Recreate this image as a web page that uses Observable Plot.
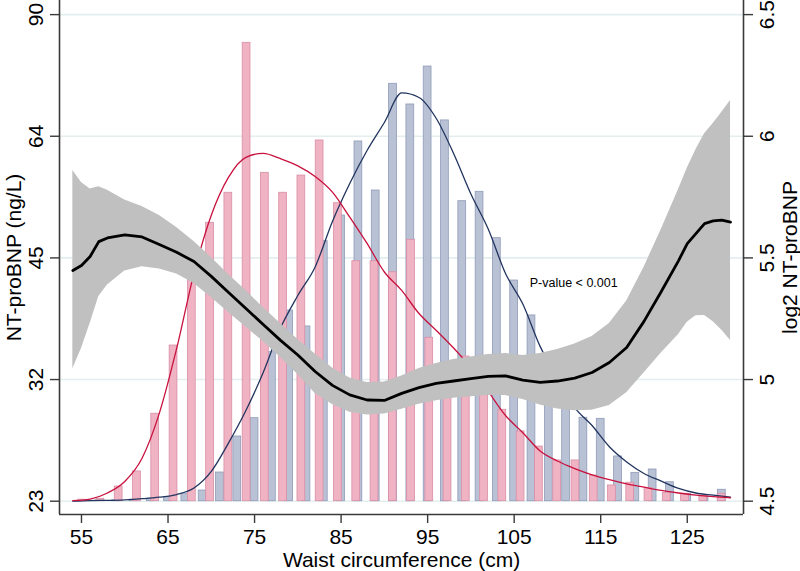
<!DOCTYPE html>
<html>
<head>
<meta charset="utf-8">
<script src="https://cdn.jsdelivr.net/npm/d3@7"></script>
<script src="https://cdn.jsdelivr.net/npm/@observablehq/plot@0.6"></script>
<style>
  html, body { margin: 0; padding: 0; background: #ffffff; }
  #chart svg { display: block; }
</style>
</head>
<body>
<div id="chart"></div>
<script>
// ---------- Axis / tick data ----------
const xTicks = [55, 65, 75, 85, 95, 105, 115, 125];
const yTicks = [4.5, 5, 5.5, 6, 6.5];                 // log2 NT-proBNP (right axis)
const leftTickLabels = ["23", "32", "45", "64", "90"]; // NT-proBNP (ng/L) = 2^value
const rightTickLabels = ["4.5", "5", "5.5", "6", "6.5"];
const xTitle = "Waist circumference (cm)";
const leftTitle = "NT-proBNP (ng/L)";
const rightTitle = "log2 NT-proBNP";
const pText = "P-value < 0.001";
const pX = 106.8, pY = 5.382;

// ---------- Spline estimate with 95% CI (log2 NT-proBNP) ----------
const waistGrid = [54, 55, 56, 57, 58, 60, 62, 64, 66, 68, 70, 72, 74, 76, 78, 80, 82, 84, 86, 88, 90, 92, 94, 96, 98, 100, 102, 104, 106, 108, 110, 112, 114, 116, 118, 120, 122, 124, 125, 126, 127, 128, 129, 130];
const estimate = [5.448, 5.469, 5.506, 5.567, 5.582, 5.595, 5.586, 5.555, 5.523, 5.485, 5.424, 5.358, 5.292, 5.226, 5.161, 5.101, 5.033, 4.976, 4.937, 4.916, 4.914, 4.943, 4.967, 4.984, 4.994, 5.004, 5.013, 5.015, 4.998, 4.988, 4.994, 5.006, 5.029, 5.070, 5.132, 5.239, 5.362, 5.489, 5.559, 5.600, 5.641, 5.652, 5.655, 5.647];
const upperCI = [5.859, 5.810, 5.783, 5.792, 5.778, 5.738, 5.711, 5.674, 5.625, 5.567, 5.502, 5.432, 5.366, 5.296, 5.230, 5.165, 5.105, 5.047, 5.006, 4.988, 4.990, 5.015, 5.045, 5.066, 5.082, 5.093, 5.103, 5.107, 5.099, 5.107, 5.124, 5.146, 5.177, 5.230, 5.323, 5.461, 5.617, 5.782, 5.868, 5.945, 6.010, 6.052, 6.099, 6.147];
const lowerCI = [5.044, 5.128, 5.230, 5.341, 5.389, 5.446, 5.464, 5.454, 5.434, 5.395, 5.337, 5.276, 5.216, 5.156, 5.091, 5.021, 4.943, 4.897, 4.866, 4.854, 4.858, 4.878, 4.898, 4.913, 4.923, 4.929, 4.934, 4.934, 4.918, 4.895, 4.879, 4.872, 4.874, 4.893, 4.946, 5.027, 5.109, 5.185, 5.236, 5.262, 5.263, 5.238, 5.203, 5.161];

// ---------- Waist distribution: histograms (% per cm) ----------
const womenBins = [55.08, 57.19, 59.30, 61.41, 63.52, 65.64, 67.75, 69.86, 71.97, 74.08, 76.19, 78.30, 80.41, 82.52, 84.63, 86.75, 88.86, 90.97, 93.08, 95.19, 97.30, 99.41, 101.52, 103.63, 105.74, 107.86, 109.97, 112.08, 114.19, 116.30, 118.41, 120.52, 122.63, 124.74, 126.85, 128.97];
const womenHist = [0.014, 0.022, 0.136, 0.276, 0.811, 1.444, 2.059, 2.583, 2.861, 4.252, 3.046, 2.861, 3.021, 3.346, 2.764, 2.226, 2.226, 2.124, 2.425, 1.516, 1.289, 1.342, 1.067, 0.848, 0.647, 0.507, 0.378, 0.378, 0.238, 0.146, 0.171, 0.124, 0.078, 0.069, 0.046, 0.069];
const menBins = [57, 59, 61, 63, 65, 67, 69, 71, 73, 75, 77, 79, 81, 83, 85, 87, 89, 91, 93, 95, 97, 99, 101, 103, 105, 107, 109, 111, 113, 115, 117, 119, 121, 123, 125, 127, 129];
const menHist = [0.005, 0.009, 0.014, 0.023, 0.037, 0.069, 0.099, 0.266, 0.600, 0.770, 1.382, 1.769, 1.621, 2.412, 2.650, 3.337, 2.882, 3.872, 3.680, 4.032, 3.532, 2.783, 2.870, 2.440, 2.047, 1.723, 1.160, 0.974, 0.774, 0.764, 0.415, 0.263, 0.294, 0.176, 0.065, 0.046, 0.106];

// ---------- Kernel density curves (% per cm) ----------
const densGrid = [54, 56, 58, 60, 62, 64, 66, 68, 70, 72, 74, 76, 78, 80, 82, 84, 86, 88, 90, 92, 94, 96, 98, 100, 102, 104, 106, 108, 110, 112, 114, 116, 118, 120, 122, 124, 126, 128, 130];
const womenDensity = [0.006, 0.020, 0.076, 0.183, 0.399, 0.817, 1.417, 2.114, 2.653, 3.006, 3.190, 3.227, 3.177, 3.111, 3.012, 2.867, 2.635, 2.391, 2.126, 1.955, 1.741, 1.584, 1.421, 1.238, 1.018, 0.795, 0.635, 0.466, 0.373, 0.303, 0.245, 0.199, 0.160, 0.130, 0.100, 0.076, 0.056, 0.042, 0.032];
const menDensity = [0, 0.006, 0.008, 0.013, 0.023, 0.037, 0.062, 0.122, 0.276, 0.541, 0.841, 1.194, 1.607, 1.908, 2.173, 2.595, 2.947, 3.253, 3.513, 3.787, 3.745, 3.550, 3.225, 2.850, 2.525, 2.112, 1.829, 1.436, 1.138, 0.869, 0.702, 0.505, 0.364, 0.257, 0.186, 0.118, 0.076, 0.056, 0.037];

// ---------- Layout / style ----------
const xDomain = [52.46, 131.5];
const yDomain = [4.4453, 6.558];
const densityBase = yTicks[0];   // density axis zero sits on the 4.5 line
const densityScale = 0.4431;     // log2 units per 1 %/cm of density
const barHalf = 0.45;
const font = "'Liberation Sans', Arial, Helvetica, sans-serif";
const axisColor = "#3a3a3a";
const gridColor = "#e4eeef";
const pinkFill = "#f0b3c3", pinkStroke = "#d98ea6";
const blueFill = "#b9c1d5", blueStroke = "#8f9bb8";
const redLine = "#c8123e", navyLine = "#22355f";

const band = waistGrid.map((w, i) => ({w, est: estimate[i], lo: lowerCI[i], hi: upperCI[i]}));
const dens = densGrid.map((w, i) => ({w, women: womenDensity[i], men: menDensity[i]}));
const pinkBars = womenBins.map((c, i) => ({c, d: womenHist[i]}));
const blueBars = menBins.map((c, i) => ({c, d: menHist[i]}));
const toY = v => densityBase + v * densityScale;

const chart = Plot.plot({
  width: 800,
  height: 571,
  marginLeft: 59,
  marginRight: 57,
  marginTop: 0,
  marginBottom: 57,
  x: {domain: xDomain, label: null, axis: null},
  y: {domain: yDomain, label: null, axis: null},
  style: {fontFamily: font, background: "#ffffff", color: "#000000", overflow: "visible"},
  marks: [
    Plot.ruleY(yTicks, {stroke: gridColor, strokeWidth: 1.6}),
    Plot.rect(blueBars, {x1: d => d.c - barHalf, x2: d => d.c + barHalf, y1: d => densityBase, y2: d => toY(d.d), fill: blueFill, stroke: blueStroke, strokeWidth: 0.8}),
    Plot.rect(pinkBars, {x1: d => d.c - barHalf, x2: d => d.c + barHalf, y1: d => densityBase, y2: d => toY(d.d), fill: pinkFill, stroke: pinkStroke, strokeWidth: 0.8}),
    Plot.line(dens, {x: "w", y: d => toY(d.men), stroke: navyLine, strokeWidth: 1.3, curve: "monotone-x"}),
    Plot.line(dens, {x: "w", y: d => toY(d.women), stroke: redLine, strokeWidth: 1.3, curve: "monotone-x"}),
    Plot.areaY(band, {x: "w", y1: "lo", y2: "hi", fill: "#c0c0c0", curve: "linear"}),
    Plot.line(band, {x: "w", y: "est", stroke: "#000000", strokeWidth: 2.8, curve: "linear"}),
    Plot.ruleX([xDomain[0]], {stroke: axisColor, strokeWidth: 1.6}),
    Plot.ruleX([xDomain[1]], {stroke: axisColor, strokeWidth: 1.6}),
    Plot.ruleY([yDomain[0]], {stroke: axisColor, strokeWidth: 1.6}),
    Plot.axisY({ticks: yTicks, anchor: "left", tickSize: 9, tickFormat: () => "", label: null, stroke: axisColor, strokeWidth: 1.4}),
    Plot.axisY({ticks: yTicks, anchor: "right", tickSize: 9, tickFormat: () => "", label: null, stroke: axisColor, strokeWidth: 1.4}),
    Plot.axisX({ticks: xTicks, anchor: "bottom", tickSize: 9, tickFormat: () => "", label: null, stroke: axisColor, strokeWidth: 1.4}),
    Plot.text(yTicks, {y: d => d, text: (d, i) => leftTickLabels[i], frameAnchor: "left", dx: -17, rotate: -90, textAnchor: "middle", lineAnchor: "bottom", fontSize: 21, fill: "#000"}),
    Plot.text(yTicks, {y: d => d, text: (d, i) => rightTickLabels[i], frameAnchor: "right", dx: 30, rotate: -90, textAnchor: "middle", lineAnchor: "bottom", fontSize: 21, fill: "#000"}),
    Plot.text(xTicks, {x: d => d, text: d => String(d), frameAnchor: "bottom", dy: 29, textAnchor: "middle", lineAnchor: "bottom", fontSize: 21, fill: "#000"}),
    Plot.text([xTitle], {text: d => d, frameAnchor: "bottom", dy: 52, textAnchor: "middle", lineAnchor: "bottom", fontSize: 21, fill: "#000"}),
    Plot.text([leftTitle], {text: d => d, frameAnchor: "left", dx: -39, rotate: -90, textAnchor: "middle", lineAnchor: "bottom", fontSize: 21, fill: "#000"}),
    Plot.text([rightTitle], {text: d => d, frameAnchor: "right", dx: 53.5, rotate: -90, textAnchor: "middle", lineAnchor: "bottom", fontSize: 21, fill: "#000"}),
    Plot.text([pText], {x: d => pX, y: d => pY, text: d => d, textAnchor: "start", lineAnchor: "bottom", fontSize: 12.5, fill: "#000"})
  ]
});
document.getElementById("chart").appendChild(chart);
</script>
</body>
</html>
